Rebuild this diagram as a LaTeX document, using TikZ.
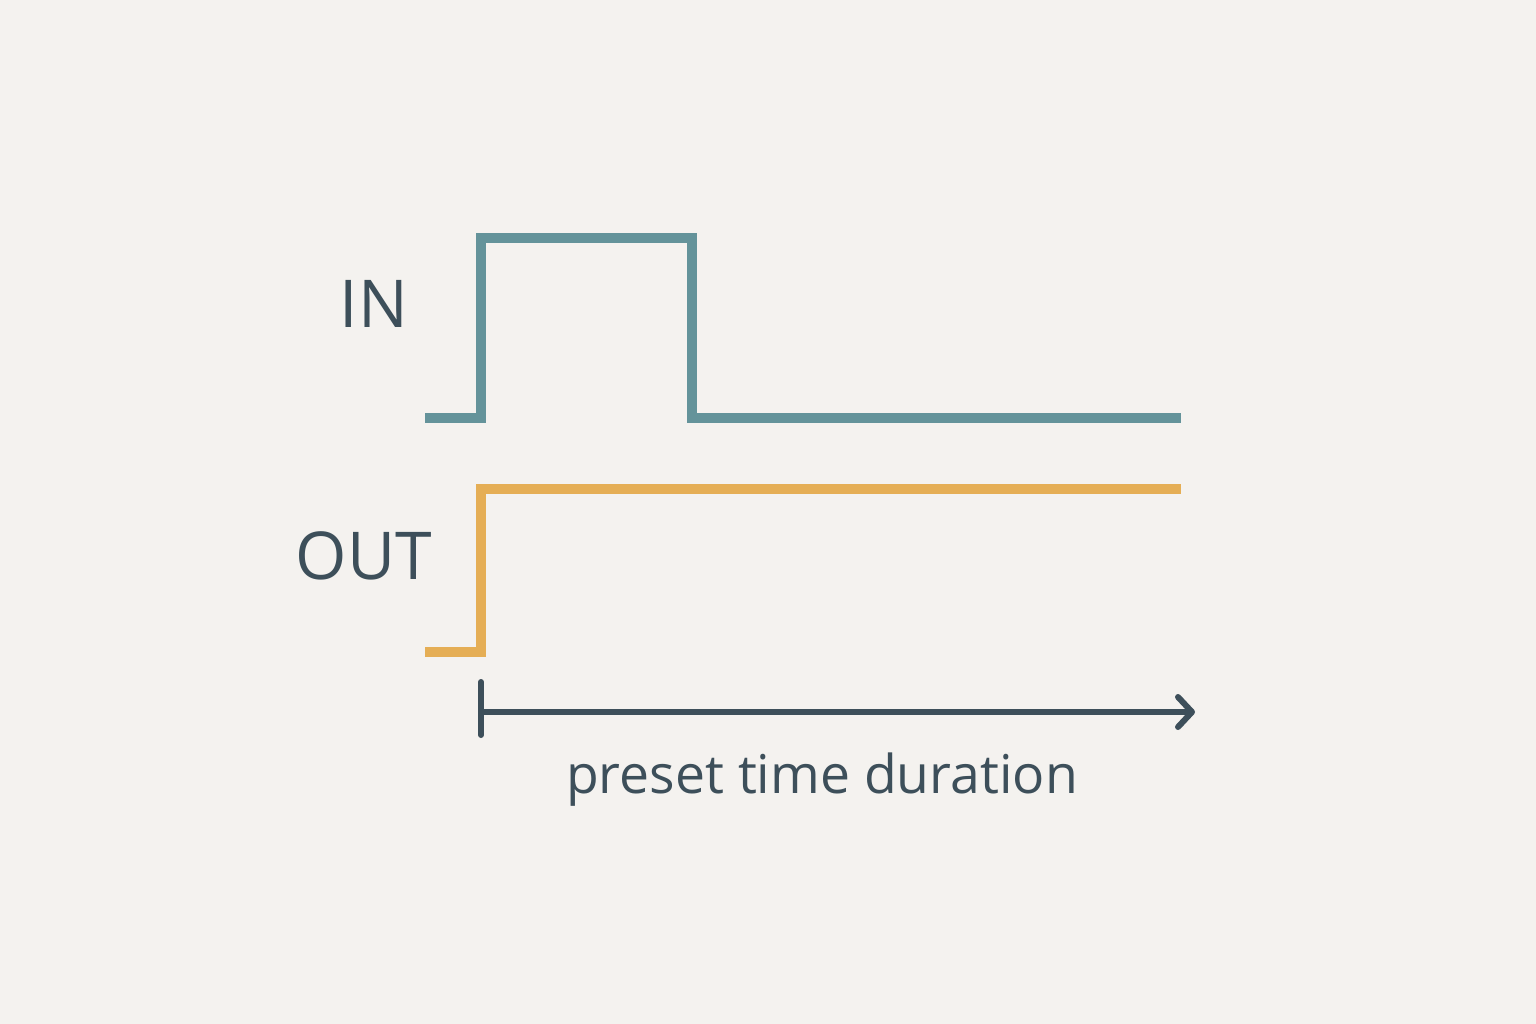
\documentclass[tikz,border=0pt]{standalone}
\usepackage{fontspec}
\setmainfont{Open Sans}
\usetikzlibrary{arrows.meta}
\definecolor{bgc}{HTML}{F4F2EF}
\definecolor{tealc}{HTML}{64939A}
\definecolor{gold}{HTML}{E5AE55}
\definecolor{ink}{HTML}{3D4F5A}
\tikzset{
  sig/.style={line width=9.5pt, line join=miter, line cap=butt},
  lbl/.style={inner sep=0pt, text=ink, font=\fontsize{66}{70}\selectfont},
  captext/.style={inner sep=0pt, text=ink, font=\fontsize{53.5}{60}\selectfont},
  axis/.style={draw=ink, line width=6pt, line cap=round}
}
\begin{document}
\begin{tikzpicture}[x=1pt,y=-1pt]
\fill[bgc] (0,0) rectangle (1536,1024);
\useasboundingbox (0,0) rectangle (1536,1024);
% IN waveform
\draw[sig, draw=tealc] (425,418) -- (481,418) -- (481,238) -- (692,238) -- (692,418) -- (1181,418);
% OUT waveform
\draw[sig, draw=gold] (425,652) -- (481,652) -- (481,489) -- (1181,489);
% labels
\node[lbl, anchor=base east] (in) at (408,327) {IN};
\node[lbl, anchor=base east] (out) at (432,579) {OUT};
% time axis
\coordinate (t0) at (481,712);
\coordinate (t1) at (1195,712);
\coordinate (ta) at (481,682);
\coordinate (tb) at (481,735);
\draw[axis] (ta) -- (tb);
\draw[axis, -{Straight Barb[length=14pt, width=30pt, line cap=round, line join=round]}] (t0) -- (t1);
\node[captext, anchor=base] (dur) at (822,793) {preset time duration};
\end{tikzpicture}
\end{document}
